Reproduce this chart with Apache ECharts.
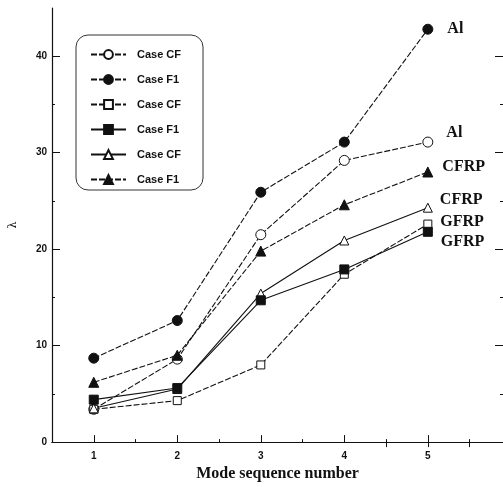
<!DOCTYPE html>
<html>
<head>
<meta charset="utf-8">
<script src="https://cdn.jsdelivr.net/npm/echarts@6/dist/echarts.min.js"></script>
<style>
  html, body { margin: 0; padding: 0; background: #fff; }
  #chart { width: 503px; height: 487px; }
</style>
</head>
<body>
<div id="chart"></div>
<script>
// Mode sequence numbers on the x axis
const modes = [1, 2, 3, 4, 5];
// Non-dimensional frequency parameter λ for each material and case
const alCF   = [3.4, 8.6, 21.5, 29.2, 31.1];
const alF1   = [8.7, 12.6, 25.9, 31.1, 42.8];
const gfrpCF = [3.4, 4.3, 8.0, 17.4, 22.6];
const gfrpF1 = [4.4, 5.6, 14.7, 17.9, 21.8];
const cfrpCF = [3.5, 5.5, 15.4, 20.9, 24.3];
const cfrpF1 = [6.2, 9.0, 19.8, 24.6, 28.0];
// Tick label values
const xTickLabels = [1, 2, 3, 4, 5];
const xMinorTicks = [1.5, 2.5, 3.5, 4.5, 5.5];
const yTickLabels = [0, 10, 20, 30, 40];
const yMinorTicks = [5, 15, 25, 35];

const INK = '#111';
const DOTTED = [6, 2];

function makeSeries(id, legendText, values, symbol, size, filled, dashed, endText, endDist, endDy) {
  const last = values.length - 1;
  return {
    type: 'line',
    name: id,
    symbol: symbol,
    symbolSize: size,
    xAxisIndex: 0,
    yAxisIndex: 0,
    z: filled ? 4 : 3,
    lineStyle: { color: INK, width: 1.1, type: dashed ? DOTTED : 'solid' },
    itemStyle: filled
      ? { color: INK, borderColor: INK, borderWidth: 1 }
      : { color: '#fff', borderColor: INK, borderWidth: 1 },
    emphasis: { disabled: true },
    data: values.map((v, i) => i === last
      ? {
          value: [modes[i], v],
          label: {
            show: true,
            position: 'right',
            distance: endDist,
            offset: [0, endDy],
            formatter: endText,
            fontFamily: 'Liberation Serif',
            fontWeight: 'bold',
            fontSize: 16,
            color: INK
          }
        }
      : [modes[i], v]),
    legendText: legendText
  };
}

const seriesList = [
  makeSeries('alCF',   'Case CF', alCF,   'circle',   10, false, true,  'Al',   13, -9),
  makeSeries('alF1',   'Case F1', alF1,   'circle',   10, true,  true,  'Al',   14, 0),
  makeSeries('gfrpCF', 'Case CF', gfrpCF, 'rect',     8,  false, true,  'GFRP', 8, -2),
  makeSeries('gfrpF1', 'Case F1', gfrpF1, 'rect',     9,  true,  false, 'GFRP', 8, 10),
  makeSeries('cfrpCF', 'Case CF', cfrpCF, 'triangle', 9,  false, false, 'CFRP', 7, -8),
  makeSeries('cfrpF1', 'Case F1', cfrpF1, 'triangle', 10, true,  true,  'CFRP', 9, -5)
];
const legendNames = {};
seriesList.forEach(s => { legendNames[s.name] = s.legendText; delete s.legendText; });

const numFont = { fontFamily: 'Liberation Sans', fontWeight: 'bold', fontSize: 10, color: INK };
const axisLine = { show: true, lineStyle: { color: INK, width: 1.2 } };

const chart = echarts.init(document.getElementById('chart'), null, { renderer: 'canvas' });
chart.setOption({
  animation: false,
  backgroundColor: '#fff',
  grid: { left: 47, right: 0, top: 8, bottom: 42, containLabel: false },
  legend: {
    orient: 'vertical',
    left: 76,
    top: 35,
    padding: [14, 22, 5, 14],
    itemWidth: 35,
    itemHeight: 11,
    itemGap: 14,
    borderColor: '#333',
    borderWidth: 1,
    borderRadius: 12,
    backgroundColor: '#fff',
    selectedMode: false,
    data: seriesList.map(s => s.name),
    formatter: name => legendNames[name],
    textStyle: { fontFamily: 'Liberation Sans', fontWeight: 'bold', fontSize: 11, color: INK, padding: [0, 0, 0, 6] }
  },
  xAxis: [
    {
      type: 'value', position: 'bottom', min: 0.5, max: 5.9,
      name: 'Mode sequence number', nameLocation: 'middle', nameGap: 22,
      nameTextStyle: { fontFamily: 'Liberation Serif', fontWeight: 'bold', fontSize: 16, color: INK },
      axisLine: axisLine,
      axisTick: { show: true, inside: true, length: 7, customValues: xTickLabels, lineStyle: { color: INK } },
      axisLabel: Object.assign({ show: true, margin: 9, customValues: xTickLabels }, numFont),
      splitLine: { show: false }
    },
    {
      type: 'value', position: 'bottom', min: 0.5, max: 5.9,
      axisLine: { show: false },
      axisTick: { show: true, inside: true, length: 3, customValues: xMinorTicks, lineStyle: { color: INK } },
      axisLabel: { show: false },
      splitLine: { show: false }
    },
    {
      type: 'value', position: 'top', min: 0.5, max: 5.9,
      axisLine: axisLine,
      axisTick: { show: true, inside: true, length: 5, customValues: [4.5, 5, 5.5], lineStyle: { color: INK } },
      axisLabel: { show: false },
      splitLine: { show: false }
    }
  ],
  yAxis: [
    {
      type: 'value', position: 'left', min: 0, max: 45,
      name: 'λ', nameLocation: 'middle', nameGap: 33, nameRotate: 90,
      nameTextStyle: { fontFamily: 'DejaVu Serif', fontSize: 11, color: INK },
      axisLine: axisLine,
      axisTick: { show: true, inside: true, length: 8, customValues: yTickLabels, lineStyle: { color: INK } },
      axisLabel: Object.assign({ show: true, margin: 5, customValues: yTickLabels }, numFont),
      splitLine: { show: false }
    },
    {
      type: 'value', position: 'left', min: 0, max: 45,
      axisLine: { show: false },
      axisTick: { show: true, inside: true, length: 3, customValues: yMinorTicks, lineStyle: { color: INK } },
      axisLabel: { show: false },
      splitLine: { show: false }
    },
    {
      type: 'value', position: 'right', min: 0, max: 45,
      axisLine: { show: false },
      axisTick: { show: true, inside: true, length: 8, customValues: [10, 20, 30, 40], lineStyle: { color: INK } },
      axisLabel: { show: false },
      splitLine: { show: false }
    },
    {
      type: 'value', position: 'right', min: 0, max: 45,
      axisLine: { show: false },
      axisTick: { show: true, inside: true, length: 3, customValues: [5, 15, 25, 35], lineStyle: { color: INK } },
      axisLabel: { show: false },
      splitLine: { show: false }
    }
  ],
  series: seriesList
});
</script>
</body>
</html>
